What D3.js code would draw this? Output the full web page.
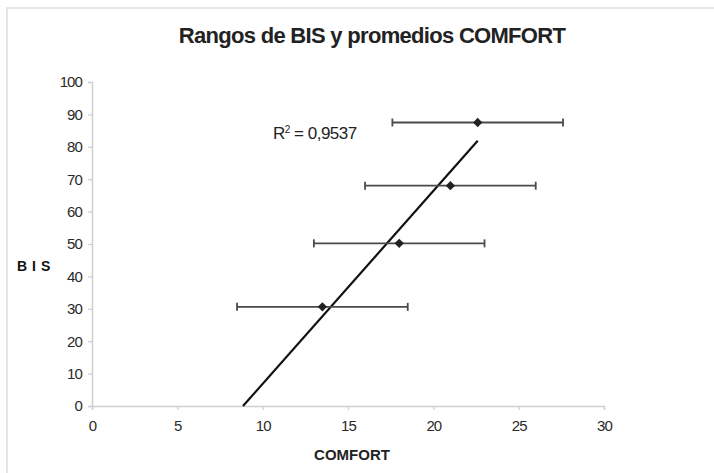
<!DOCTYPE html>
<html>
<head>
<meta charset="utf-8">
<script src="https://cdn.jsdelivr.net/npm/d3@7/dist/d3.min.js"></script>
<style>
  body{margin:0;background:#fff;}
  text{font-family:"Liberation Sans",Arial,sans-serif;}
</style>
</head>
<body>
<div id="chart"></div>
<script>
// datos
var comfort = [13.5, 18, 21, 22.6];      // promedio COMFORT
var bis = [30.6, 50.2, 68, 87.5];        // BIS
var errX = [5, 5, 5, 5];                 // rango +/- COMFORT
var xTicks = [0, 5, 10, 15, 20, 25, 30];
var yTicks = [0, 10, 20, 30, 40, 50, 60, 70, 80, 90, 100];
var r2Label = '0,9537';

var W = 714, H = 473,
  margin = {left:92, right:110, top:82, bottom:67},
  iw = W - margin.left - margin.right,
  ih = H - margin.top - margin.bottom;

var svg = d3.select('#chart').append('svg')
  .attr('width', W)
  .attr('height', H);

// marco exterior
svg.append('rect')
  .attr('x', 7).attr('y', 8)
  .attr('width', W).attr('height', H)
  .style('fill', 'none')
  .style('stroke', '#e6e6e6')
  .style('stroke-width', 2);

svg.append('text')
  .attr('x', 372).attr('y', 43)
  .attr('text-anchor', 'middle')
  .style('font-size', '22px')
  .style('font-weight', 'bold')
  .style('letter-spacing', '-0.7px')
  .style('fill', '#222')
  .text('Rangos de BIS y promedios COMFORT');

var g = svg.append('g')
  .attr('transform', 'translate(' + margin.left + ',' + margin.top + ')');

var x = d3.scaleLinear().domain([0, 30]).range([0, iw]);
var y = d3.scaleLinear().domain([0, 100]).range([ih, 0]);

var xAxis = g.append('g')
  .attr('transform', 'translate(0,' + ih + ')')
  .call(d3.axisBottom(x).tickValues(xTicks).tickSize(4).tickPadding(10));

var yAxis = g.append('g')
  .call(d3.axisLeft(y).tickValues(yTicks).tickSize(4).tickPadding(6));

[xAxis, yAxis].forEach(function(a){
  a.select('.domain').style('stroke', '#cfcfcf').style('stroke-width', 1.5);
  a.selectAll('.tick line').style('stroke', '#cfcfcf').style('stroke-width', 1.2);
  a.selectAll('.tick text')
    .style('font-size', '15px')
    .style('letter-spacing', '-0.9px')
    .style('fill', '#2a2a2a');
});

svg.append('text')
  .attr('x', 352).attr('y', 460)
  .attr('text-anchor', 'middle')
  .style('font-size', '15px')
  .style('font-weight', 'bold')
  .style('fill', '#222')
  .text('COMFORT');

svg.append('text')
  .attr('x', 17).attr('y', 271)
  .style('font-size', '14px')
  .style('font-weight', 'bold')
  .style('letter-spacing', '5px')
  .style('fill', '#111')
  .text('BIS');

// linea de tendencia (minimos cuadrados), extendida hasta BIS = 0
var mx = d3.mean(comfort), my = d3.mean(bis);
var sxy = d3.sum(comfort, function(d, i){ return (d - mx) * (bis[i] - my); });
var sxx = d3.sum(comfort, function(d){ return (d - mx) * (d - mx); });
var slope = sxy / sxx, icpt = my - slope * mx;
var x0 = -icpt / slope, x1 = d3.max(comfort);

g.append('line')
  .attr('x1', x(x0)).attr('y1', y(0))
  .attr('x2', x(x1)).attr('y2', y(slope * x1 + icpt))
  .style('stroke', '#111')
  .style('stroke-width', 2.2);

var pts = comfort.map(function(d, i){ return {c:d, b:bis[i], e:errX[i]}; });

var bars = g.selectAll('.err').data(pts).enter().append('g').attr('class', 'err');
bars.append('line')
  .attr('x1', function(d){ return x(d.c - d.e); })
  .attr('x2', function(d){ return x(d.c + d.e); })
  .attr('y1', function(d){ return y(d.b); })
  .attr('y2', function(d){ return y(d.b); });
bars.append('line')
  .attr('x1', function(d){ return x(d.c - d.e); })
  .attr('x2', function(d){ return x(d.c - d.e); })
  .attr('y1', function(d){ return y(d.b) - 4; })
  .attr('y2', function(d){ return y(d.b) + 4; });
bars.append('line')
  .attr('x1', function(d){ return x(d.c + d.e); })
  .attr('x2', function(d){ return x(d.c + d.e); })
  .attr('y1', function(d){ return y(d.b) - 4; })
  .attr('y2', function(d){ return y(d.b) + 4; });
bars.selectAll('line')
  .style('stroke', '#4a4a4a')
  .style('stroke-width', 1.8);

g.selectAll('.pt').data(pts).enter().append('path')
  .attr('class', 'pt')
  .attr('transform', function(d){ return 'translate(' + x(d.c) + ',' + y(d.b) + ')'; })
  .attr('d', d3.symbol().type(d3.symbolDiamond2).size(55))
  .style('fill', '#222');

var r2 = svg.append('text')
  .attr('x', 273).attr('y', 139)
  .style('font-size', '17px')
  .style('letter-spacing', '-0.5px')
  .style('fill', '#222');
r2.append('tspan').text('R');
r2.append('tspan').attr('dy', -6).style('font-size', '10px').text('2');
r2.append('tspan').attr('dy', 6).text(' = ' + r2Label);
</script>
</body>
</html>
